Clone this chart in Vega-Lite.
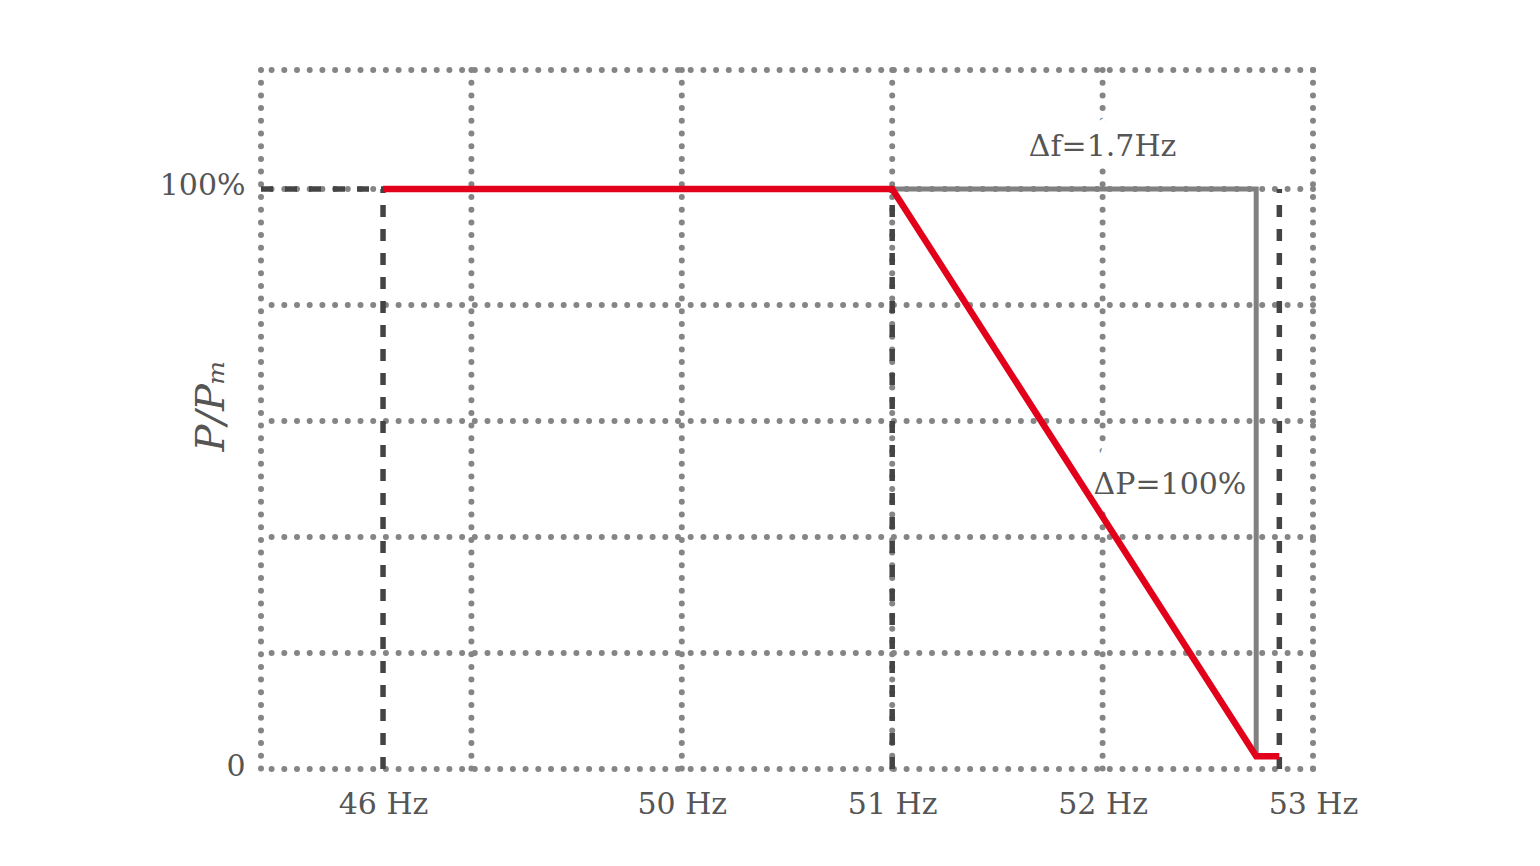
{
  "$schema": "https://vega.github.io/schema/vega-lite/v6.json",
  "width": 1052,
  "height": 699,
  "autosize": "none",
  "padding": {"left": 261, "top": 70, "right": 227, "bottom": 97},
  "background": "white",
  "config": {
    "view": {"stroke": null},
    "font": "DejaVu Serif",
    "axis": {
      "domain": false,
      "ticks": false,
      "grid": false,
      "labelFont": "DejaVu Serif",
      "labelFontSize": 30,
      "labelColor": "#555555"
    },
    "axisX": {"labelPadding": 20, "labelFlush": false},
    "axisY": {
      "labelPadding": 16,
      "titleFont": "DejaVu Serif",
      "titleFontStyle": "italic",
      "titleFontWeight": "normal",
      "titleFontSize": 40,
      "titleColor": "#555555",
      "titleAngle": -90,
      "titleAlign": "center",
      "titleBaseline": "alphabetic",
      "titleX": -38,
      "titleY": 335
    }
  },
  "datasets": {
    "vgrid": [
      {"freq": 48}, {"freq": 49}, {"freq": 50},
      {"freq": 51}, {"freq": 52}, {"freq": 53}
    ],
    "hgrid": [
      {"power": 0}, {"power": 20}, {"power": 40}, {"power": 60},
      {"power": 80}, {"power": 100}, {"power": 120.5}
    ],
    "guides": [
      {"freq": 48, "freq_end": 48.58, "power": 100, "power_end": 100},
      {"freq": 48.58, "freq_end": 48.58, "power": 0, "power_end": 100},
      {"freq": 51, "freq_end": 51, "power": 0, "power_end": 100},
      {"freq": 52.84, "freq_end": 52.84, "power": 0, "power_end": 100}
    ],
    "delta": [
      {"step": 1, "freq": 51, "power": 100},
      {"step": 2, "freq": 52.73, "power": 100},
      {"step": 3, "freq": 52.73, "power": 2.2}
    ],
    "curve": [
      {"step": 1, "freq": 48.58, "power": 100},
      {"step": 2, "freq": 51, "power": 100},
      {"step": 3, "freq": 52.73, "power": 2.2},
      {"step": 4, "freq": 52.84, "power": 2.2}
    ],
    "notes": [
      {"freq": 52.0, "power": 107.2, "label": "Δf=1.7Hz"},
      {"freq": 52.32, "power": 49, "label": "ΔP=100%"}
    ]
  },
  "encoding": {
    "x": {
      "field": "freq",
      "type": "quantitative",
      "scale": {"domain": [48, 53], "nice": false, "zero": false},
      "axis": {
        "values": [48.58, 50, 51, 52, 53],
        "labelExpr": "datum.value < 49 ? '46 Hz' : format(datum.value, 'd') + ' Hz'",
        "title": null
      }
    },
    "y": {
      "field": "power",
      "type": "quantitative",
      "scale": {"domain": [0, 120.5], "nice": false},
      "axis": {
        "values": [0, 100],
        "labelExpr": "datum.value == 100 ? '100%' : '0'",
        "labelOffset": -3,
        "title": "P/Pₘ"
      }
    }
  },
  "layer": [
    {
      "data": {"name": "vgrid"},
      "mark": {"type": "rule", "color": "#858585", "strokeWidth": 6, "strokeDash": [0, 12.7], "strokeCap": "round"},
      "encoding": {"y": null}
    },
    {
      "data": {"name": "hgrid"},
      "mark": {"type": "rule", "color": "#858585", "strokeWidth": 6, "strokeDash": [0, 12.7], "strokeCap": "round"},
      "encoding": {"x": null}
    },
    {
      "data": {"name": "notes"},
      "mark": {"type": "text", "fontSize": 30, "color": "white", "stroke": "white", "strokeWidth": 22, "align": "center", "baseline": "middle"},
      "encoding": {
        "text": {"field": "label"}
      }
    },
    {
      "data": {"name": "guides"},
      "mark": {"type": "rule", "color": "#444444", "strokeWidth": 5.5, "strokeDash": [12, 12]},
      "encoding": {
        "x2": {"field": "freq_end"},
        "y2": {"field": "power_end"}
      }
    },
    {
      "data": {"name": "delta"},
      "mark": {"type": "line", "color": "#808080", "strokeWidth": 5},
      "encoding": {
        "order": {"field": "step"}
      }
    },
    {
      "data": {"name": "curve"},
      "mark": {"type": "line", "color": "#e2001a", "strokeWidth": 6.5, "strokeJoin": "miter"},
      "encoding": {
        "order": {"field": "step"}
      }
    },
    {
      "data": {"name": "notes"},
      "mark": {"type": "text", "fontSize": 30, "color": "#555555", "align": "center", "baseline": "middle"},
      "encoding": {
        "text": {"field": "label"}
      }
    }
  ]
}
